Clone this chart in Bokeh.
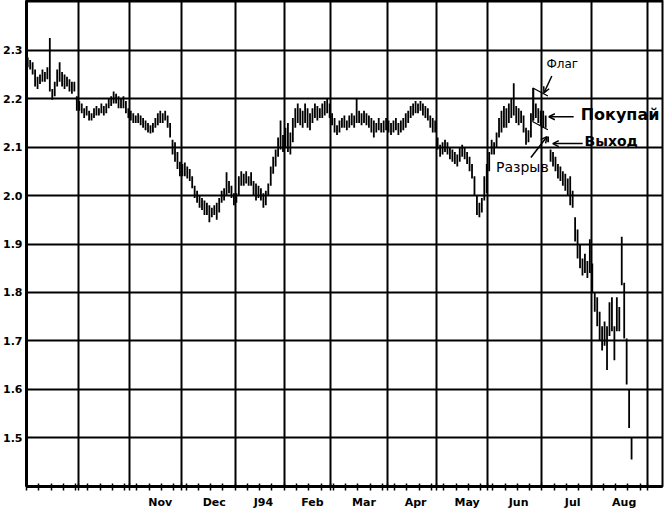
from bokeh.plotting import figure
from bokeh.models import FixedTicker, Range1d, Arrow, OpenHead
from bokeh.core.properties import value
from bokeh.embed import file_html
from bokeh.resources import INLINE

# ---- data -------------------------------------------------------------
month_days = [21, 21, 21, 22, 20, 19, 23, 20, 21, 22, 20, 23]  # Sep93..Aug94 trading days
month_labels = ["", "", "Nov", "Dec", "J94", "Feb", "Mar", "Apr", "May", "Jun", "Jul", "Aug"]
y_ticks = [1.5, 1.6, 1.7, 1.8, 1.9, 2.0, 2.1, 2.2, 2.3]
y_labels = ["1.5", "1.6", "1.7", "1.8", "1.9", "2.0", "2.1", "2.2", "2.3"]

high = [
    # Sep
    2.285, 2.28, 2.275, 2.26, 2.245, 2.25, 2.26, 2.255, 2.265, 2.325, 2.22, 2.235, 2.26, 2.275, 2.255, 2.25, 2.245, 2.24, 2.235, 2.235, 2.205,
    # Oct
    2.195, 2.19, 2.18, 2.185, 2.175, 2.17, 2.18, 2.185, 2.18, 2.19, 2.185, 2.19, 2.2, 2.205, 2.215, 2.21, 2.205, 2.2, 2.205, 2.195, 2.18,
    # Nov
    2.175, 2.17, 2.165, 2.17, 2.165, 2.16, 2.155, 2.15, 2.145, 2.15, 2.16, 2.17, 2.175, 2.17, 2.175, 2.165, 2.15, 2.115, 2.11, 2.09, 2.07,
    # Dec
    2.065, 2.068, 2.06, 2.055, 2.04, 2.02, 2.01, 2.0, 1.995, 1.99, 1.985, 1.98, 1.975, 1.98, 1.985, 1.995, 2.01, 2.015, 2.048, 2.03, 2.02, 2.005,
    # Jan
    2.005, 2.04, 2.05, 2.045, 2.05, 2.04, 2.048, 2.03, 2.025, 2.02, 2.015, 2.005, 2.01, 2.025, 2.06, 2.08, 2.095, 2.12, 2.155, 2.125,
    # Feb
    2.14, 2.15, 2.13, 2.16, 2.18, 2.19, 2.18, 2.175, 2.19, 2.18, 2.17, 2.18, 2.19, 2.185, 2.18, 2.19, 2.195, 2.2, 2.19,
    # Mar
    2.17, 2.16, 2.145, 2.155, 2.16, 2.165, 2.155, 2.165, 2.17, 2.165, 2.2, 2.175, 2.17, 2.175, 2.17, 2.165, 2.16, 2.155, 2.15, 2.16, 2.15, 2.155, 2.16,
    # Apr
    2.155, 2.15, 2.155, 2.16, 2.15, 2.155, 2.16, 2.17, 2.175, 2.185, 2.19, 2.195, 2.19, 2.195, 2.19, 2.185, 2.18, 2.165, 2.16, 2.155,
    # May
    2.12, 2.105, 2.11, 2.115, 2.11, 2.1, 2.095, 2.09, 2.085, 2.1, 2.105, 2.1, 2.09, 2.08, 2.065, 2.04, 2.0, 1.985, 1.995, 2.04, 2.065,
    # Jun
    2.09, 2.115, 2.11, 2.13, 2.16, 2.175, 2.185, 2.18, 2.19, 2.2, 2.232, 2.185, 2.18, 2.175, 2.165, 2.14, 2.135, 2.17, 2.222, 2.19, 2.18, 2.175,
    # Jul
    2.175, 2.165, 2.122, 2.095, 2.09, 2.08, 2.065, 2.06, 2.05, 2.045, 2.035, 2.04, 2.01, 1.955, 1.93, 1.9, 1.87, 1.88, 1.865, 1.91,
    # Aug
    1.86, 1.8, 1.79, 1.76, 1.73, 1.74, 1.73, 1.78, 1.79, 1.73, 1.79, 1.77, 1.915, 1.82, 1.705, 1.6, 1.5,
]
low = [
    # Sep
    2.265, 2.26, 2.25, 2.225, 2.22, 2.23, 2.235, 2.235, 2.24, 2.215, 2.198, 2.205, 2.225, 2.235, 2.225, 2.22, 2.225, 2.215, 2.21, 2.215, 2.175,
    # Oct
    2.175, 2.17, 2.16, 2.165, 2.155, 2.155, 2.16, 2.165, 2.165, 2.17, 2.165, 2.17, 2.18, 2.185, 2.19, 2.19, 2.18, 2.18, 2.18, 2.17, 2.16,
    # Nov
    2.155, 2.15, 2.15, 2.15, 2.145, 2.14, 2.135, 2.13, 2.128, 2.13, 2.14, 2.145, 2.15, 2.15, 2.155, 2.14, 2.12, 2.085, 2.07, 2.055, 2.04,
    # Dec
    2.04, 2.04, 2.035, 2.03, 2.015, 1.995, 1.985, 1.975, 1.97, 1.96, 1.96, 1.945, 1.955, 1.96, 1.95, 1.965, 1.985, 1.99, 2.0, 2.005, 1.995, 1.98,
    # Jan
    1.985, 2.0, 2.02, 2.02, 2.025, 2.02, 2.02, 2.0, 1.99, 1.995, 1.99, 1.975, 1.98, 2.0, 2.02, 2.045, 2.06, 2.08, 2.095, 2.09,
    # Feb
    2.1, 2.09, 2.085, 2.11, 2.14, 2.15, 2.145, 2.14, 2.15, 2.14, 2.135, 2.15, 2.16, 2.155, 2.16, 2.16, 2.165, 2.17, 2.16,
    # Mar
    2.145, 2.13, 2.125, 2.13, 2.14, 2.14, 2.135, 2.14, 2.145, 2.14, 2.15, 2.15, 2.145, 2.15, 2.145, 2.14, 2.13, 2.12, 2.13, 2.135, 2.13, 2.13, 2.135,
    # Apr
    2.13, 2.125, 2.13, 2.135, 2.125, 2.13, 2.135, 2.14, 2.15, 2.16, 2.165, 2.17, 2.17, 2.175, 2.165, 2.16, 2.155, 2.14, 2.13, 2.13,
    # May
    2.095, 2.08, 2.085, 2.09, 2.085, 2.075, 2.07, 2.065, 2.06, 2.07, 2.08, 2.075, 2.065, 2.05, 2.035, 2.0, 1.96, 1.955, 1.965, 1.99, 2.005,
    # Jun
    2.05, 2.085, 2.085, 2.1, 2.12, 2.13, 2.14, 2.14, 2.15, 2.16, 2.165, 2.15, 2.145, 2.15, 2.13, 2.105, 2.11, 2.12, 2.155, 2.16, 2.15, 2.145,
    # Jul
    2.14, 2.14, 2.11, 2.07, 2.06, 2.05, 2.035, 2.03, 2.02, 2.01, 2.0, 1.98, 1.975, 1.905, 1.87, 1.85, 1.835, 1.84, 1.83, 1.84,
    # Aug
    1.8, 1.76, 1.73, 1.7, 1.68, 1.69, 1.64, 1.71, 1.72, 1.66, 1.72, 1.72, 1.815, 1.705, 1.61, 1.52, 1.455,
]
days = list(range(len(high)))

# annotations (trading-day index, price)
flag_x = [211.9, 205.8, 205.8, 211.9]
flag_y = [2.2056, 2.222, 2.1523, 2.1359]
note_regular = ["Флаг", "Разрыв"]
note_regular_x = [217.8, 201.5]
note_regular_y = [2.2713, 2.058]
note_regular_size = ["12px", "14px"]
note_bold = ["Покупай", "Выход"]
note_bold_x = [241.3, 237.7]
note_bold_y = [2.1677, 2.1133]
note_bold_size = ["16px", "14px"]
arrows = [  # x_start, y_start, x_end, y_end
    (213.5, 2.2467, 210.3, 2.2118),   # Флаг
    (222.4, 2.1626, 212.3, 2.1626),   # Покупай
    (226.1, 2.1072, 213.9, 2.1072),   # Выход
    (205.0, 2.0785, 211.5, 2.1215),   # Разрыв
]

# ---- derived tick positions -------------------------------------------
bounds = [-0.5]
for d in month_days:
    bounds.append(bounds[-1] + d)
mids = []
mid_labels = {}
for i, lab in enumerate(month_labels):
    if lab:
        m = int(round((bounds[i] + bounds[i + 1]) / 2 + 2))
        mids.append(m)
        mid_labels[m] = lab
weekly = sorted(set([i - 0.5 for i in range(0, 253, 5)] + bounds))

# ---- figure ------------------------------------------------------------
p = figure(width=664, height=511, output_backend="svg", toolbar_location=None,
           x_range=Range1d(-0.5, 258.6), y_range=Range1d(1.3995, 2.4026),
           min_border_left=24, min_border_right=2, min_border_top=0, min_border_bottom=22,
           background_fill_color="white", border_fill_color="white")
p.outline_line_color = "black"
p.outline_line_width = 2

# grids
p.xgrid.ticker = FixedTicker(ticks=bounds)
p.ygrid.ticker = FixedTicker(ticks=y_ticks + [2.4])
for g in (p.xgrid, p.ygrid):
    g.grid_line_color = "black"
    g.grid_line_width = 2
    g.grid_line_alpha = 1.0

# y axis
ya = p.yaxis[0]
ya.ticker = FixedTicker(ticks=y_ticks)
ya.major_label_overrides = {t: s for t, s in zip(y_ticks, y_labels)}
ya.axis_line_width = 3
ya.axis_line_color = "black"
ya.major_tick_out = 0
ya.major_tick_in = 0
ya.minor_tick_line_color = None
ya.major_label_standoff = 4
ya.major_label_text_font = "DejaVu Sans"
ya.major_label_text_font_style = "bold"
ya.major_label_text_font_size = "11px"
ya.major_label_text_color = "black"

# x axis: month labels centred in months, ticks at weeks and month starts
xa = p.xaxis[0]
xa.ticker = FixedTicker(ticks=mids, minor_ticks=weekly)
xa.major_label_overrides = mid_labels
xa.axis_line_width = 3
xa.axis_line_color = "black"
xa.major_tick_line_color = None
xa.major_tick_out = 6
xa.major_tick_in = 0
xa.minor_tick_in = 3
xa.minor_tick_out = 4
xa.minor_tick_line_width = 1.5
xa.minor_tick_line_color = "black"
xa.major_label_standoff = 3
xa.major_label_text_font = "DejaVu Sans"
xa.major_label_text_font_style = "bold"
xa.major_label_text_font_size = "11px"
xa.major_label_text_color = "black"

# price bars
p.segment(x0=days, y0=low, x1=days, y1=high, line_color="black", line_width=1.8)

# flag outline
p.line(flag_x, flag_y, line_color="black", line_width=1.2)

# notes
for t, x, y, s in zip(note_regular, note_regular_x, note_regular_y, note_regular_size):
    p.text(x=[x], y=[y], text=[t], text_font=value("DejaVu Sans"), text_font_size=s,
           text_align="center", text_baseline="middle", text_color="black")
for t, x, y, s in zip(note_bold, note_bold_x, note_bold_y, note_bold_size):
    p.text(x=[x], y=[y], text=[t], text_font=value("DejaVu Sans"), text_font_size=s,
           text_font_style="bold", text_align="center", text_baseline="middle", text_color="black")
for xs, ys, xe, ye in arrows:
    p.add_layout(Arrow(end=OpenHead(size=6, line_width=1.5, line_color="black"),
                       x_start=xs, y_start=ys, x_end=xe, y_end=ye,
                       line_width=1.5, line_color="black"))

open("out.html", "w").write(file_html(p, INLINE))
